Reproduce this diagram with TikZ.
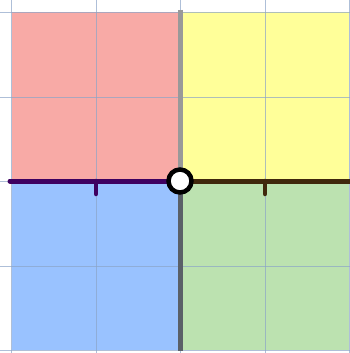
\documentclass[tikz,border=0pt]{standalone}
\definecolor{qred}{RGB}{248,170,166}
\definecolor{qyel}{RGB}{255,255,153}
\definecolor{qblue}{RGB}{153,194,255}
\definecolor{qgreen}{RGB}{188,226,176}
\definecolor{gridc}{RGB}{140,165,200}
\definecolor{lpurple}{RGB}{62,0,96}
\definecolor{rbrown}{RGB}{64,40,12}
\definecolor{vtop}{RGB}{153,153,153}
\definecolor{vbot}{RGB}{90,96,104}
\begin{document}
\begin{tikzpicture}[x=1pt,y=-1pt,
  gridline/.style={draw=gridc,line width=1pt,opacity=0.7},
  axis/.style={line width=5pt},
  tick/.style={line width=4.5pt,line cap=round}]
\useasboundingbox (0,0) rectangle (350,353);
\fill[white] (0,0) rectangle (350,353);
% quadrants
\fill[qred] (11.5,12.5) rectangle (180,181);
\fill[qyel] (180,12.5) rectangle (348.5,181);
\fill[qblue] (11.5,181) rectangle (180,349.5);
\fill[qgreen] (180,181) rectangle (348.5,349.5);
% grid
\foreach \x in {11.5,96,180,265,349}{\draw[gridline] (\x,0) -- (\x,353);}
\foreach \y in {12.5,97,181,266,350}{\draw[gridline] (0,\y) -- (350,\y);}
% axes
\coordinate (O) at (180,181);
\coordinate (L) at (10,181);
\coordinate (R) at (350,181);
\coordinate (T) at (180,10);
\coordinate (B) at (180,351);
\coordinate (tl) at (96,181);
\coordinate (tlb) at (96,194);
\coordinate (tr) at (265,181);
\coordinate (trb) at (265,194);
\draw[axis,vtop] (T) -- (O);
\draw[axis,vbot] (O) -- (B);
\draw[axis,lpurple,line cap=round] (L) -- (O);
\draw[axis,rbrown] (O) -- (R);
\draw[tick,lpurple] (tl) -- (tlb);
\draw[tick,rbrown] (tr) -- (trb);
\node[circle,draw=black,line width=4.5pt,fill=white,minimum size=23pt,inner sep=0pt] (c) at (O) {};
\end{tikzpicture}
\end{document}
